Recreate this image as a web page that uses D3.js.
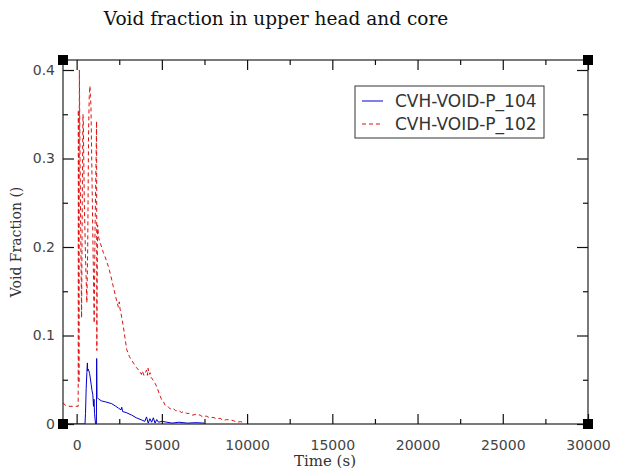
<!DOCTYPE html>
<html>
<head>
<meta charset="utf-8">
<script src="https://cdn.jsdelivr.net/npm/d3@7"></script>
<style>
  body { margin: 0; background: #fff; }
  .tick-label { font-family: "DejaVu Sans", sans-serif; font-size: 14px; fill: #444; }
  .axis-title { font-family: "DejaVu Serif", serif; font-size: 15px; fill: #333; }
</style>
</head>
<body>
<div id="chart"></div>
<script>
// time (s) and void fraction for the two cells
var p102_time = [-800, -650, -500, 90, 100, 120, 135, 160, 200, 240, 290, 330, 370, 390, 450, 520, 600, 650, 700, 740, 780, 810, 840, 900, 960, 1030, 1080, 1140, 1170, 1185, 1200, 1230, 1300, 1370, 1470, 1560, 1664, 1760, 1858, 2000, 2152, 2300, 2446, 2500, 2546, 2605, 2740, 2840, 2940, 3100, 3328, 3500, 3722, 3800, 3850, 3950, 4016, 4100, 4150, 4192, 4250, 4310, 4350, 4400, 4500, 4600, 4704, 4850, 4998, 5100, 5200, 5350, 5486, 5650, 5800, 6000, 6150, 6268, 6450, 6600, 6800, 7000, 7250, 7400, 7600, 7800, 8000, 8200, 8426, 8600, 8800, 9000, 9200, 9400, 9602, 9800];
var p102_void = [0.024, 0.021, 0.020, 0.020, 0.355, 0.20, 0.046, 0.40, 0.30, 0.22, 0.12, 0.25, 0.35, 0.345, 0.25, 0.19, 0.137, 0.20, 0.33, 0.37, 0.382, 0.37, 0.36, 0.28, 0.20, 0.114, 0.22, 0.30, 0.342, 0.083, 0.15, 0.225, 0.21, 0.205, 0.200, 0.194, 0.189, 0.184, 0.178, 0.168, 0.155, 0.143, 0.132, 0.138, 0.130, 0.125, 0.110, 0.097, 0.084, 0.076, 0.069, 0.064, 0.059, 0.056, 0.060, 0.055, 0.057, 0.061, 0.055, 0.063, 0.056, 0.058, 0.053, 0.052, 0.049, 0.046, 0.042, 0.034, 0.027, 0.025, 0.021, 0.020, 0.017, 0.018, 0.015, 0.015, 0.013, 0.014, 0.012, 0.012, 0.010, 0.011, 0.010, 0.008, 0.009, 0.007, 0.0075, 0.006, 0.0064, 0.004, 0.005, 0.0045, 0.0038, 0.002, 0.0026, 0.002];

var p104_time = [-800, 490, 520, 560, 600, 630, 650, 680, 720, 760, 800, 850, 900, 950, 990, 1020, 1050, 1110, 1160, 1175, 1195, 1300, 1470, 1700, 2058, 2300, 2446, 2600, 2646, 2700, 2900, 3234, 3500, 3822, 4000, 4100, 4200, 4300, 4400, 4500, 4600, 4700, 4800, 5000, 5300, 5600, 6000, 6500, 7000, 7500];
var p104_void = [0, 0, 0.012, 0.040, 0.058, 0.069, 0.060, 0.062, 0.060, 0.057, 0.052, 0.045, 0.038, 0.033, 0.020, 0.028, 0.012, 0, 0, 0.074, 0.030, 0.028, 0.026, 0.025, 0.023, 0.020, 0.018, 0.016, 0.019, 0.014, 0.013, 0.010, 0.007, 0.0045, 0.003, 0.008, 0.001, 0.006, 0.002, 0.007, 0.001, 0.005, 0.002, 0.003, 0.002, 0.001, 0.002, 0.001, 0.0015, 0.001];

var series_names = ["CVH-VOID-P_104", "CVH-VOID-P_102"];
var series_colors = ["#0000cc", "#dd1111"];
var series_dash = [null, "4,3"];

var x_ticks = [0, 5000, 10000, 15000, 20000, 25000, 30000];
var x_minor = [2500, 7500, 12500, 17500, 22500, 27500];
var y_ticks = [0, 0.1, 0.2, 0.3, 0.4];
var y_minor = [0.05, 0.15, 0.25, 0.35];

var svg = d3.select("#chart").append("svg")
    .attr("width", 617)
    .attr("height", 470);

var pLeft = 63, pRight = 588, pTop = 60, pBottom = 424;

var x = d3.scaleLinear().domain([-800, 30000]).range([pLeft, pRight]);
var y = d3.scaleLinear().domain([0, 0.4113]).range([pBottom, pTop]);

function pairs(t, v) {
  var out = [];
  for (var i = 0; i < t.length; i++) {
    out.push({t: t[i], v: v[i]});
  }
  return out;
}

var line = d3.line()
    .x(function(d) { return x(d.t); })
    .y(function(d) { return y(d.v); });

// title
svg.append("text")
    .attr("x", 276)
    .attr("y", 25)
    .attr("text-anchor", "middle")
    .style("font-family", "'DejaVu Serif', serif")
    .style("font-size", "18.5px")
    .style("fill", "#111")
    .text("Void fraction in upper head and core");

// data lines (clip to the frame)
svg.append("clipPath").attr("id", "plotclip")
  .append("rect")
    .attr("x", pLeft).attr("y", pTop)
    .attr("width", pRight - pLeft).attr("height", pBottom - pTop);

var plot = svg.append("g").attr("clip-path", "url(#plotclip)");

plot.append("path")
    .datum(pairs(p104_time, p104_void))
    .attr("d", line)
    .attr("fill", "none")
    .attr("stroke", series_colors[0])
    .attr("stroke-width", 1);

plot.append("path")
    .datum(pairs(p102_time, p102_void))
    .attr("d", line)
    .attr("fill", "none")
    .attr("stroke", series_colors[1])
    .attr("stroke-width", 1)
    .attr("stroke-dasharray", series_dash[1]);

// frame
svg.append("rect")
    .attr("x", pLeft).attr("y", pTop)
    .attr("width", pRight - pLeft).attr("height", pBottom - pTop)
    .attr("fill", "none")
    .attr("stroke", "#222")
    .attr("stroke-width", 1.2);

// axes, ticks drawn inward on all four sides
var xBottom = d3.axisBottom(x).tickValues(x_ticks).tickSize(-10).tickPadding(16).tickFormat(d3.format("d"));
var xBottomMinor = d3.axisBottom(x).tickValues(x_minor).tickSize(-5).tickFormat("");
var xTop = d3.axisTop(x).tickValues(x_ticks).tickSize(-10).tickFormat("");
var xTopMinor = d3.axisTop(x).tickValues(x_minor).tickSize(-5).tickFormat("");
var yLeft = d3.axisLeft(y).tickValues(y_ticks).tickSize(-11).tickPadding(8).tickFormat(function(d) { return d === 0 ? "0" : d3.format(".1f")(d); });
var yLeftMinor = d3.axisLeft(y).tickValues(y_minor).tickSize(-5).tickFormat("");
var yRight = d3.axisRight(y).tickValues(y_ticks).tickSize(-11).tickFormat("");
var yRightMinor = d3.axisRight(y).tickValues(y_minor).tickSize(-5).tickFormat("");

function customAxis(g) {
  g.select(".domain").remove();
  g.selectAll(".tick line").attr("stroke", "#111").attr("stroke-width", 1.2);
  g.selectAll(".tick text").attr("class", "tick-label").attr("font-family", null).attr("font-size", null);
}

svg.append("g").attr("transform", "translate(0," + pBottom + ")").call(xBottom).call(customAxis);
svg.append("g").attr("transform", "translate(0," + pBottom + ")").call(xBottomMinor).call(customAxis);
svg.append("g").attr("transform", "translate(0," + pTop + ")").call(xTop).call(customAxis);
svg.append("g").attr("transform", "translate(0," + pTop + ")").call(xTopMinor).call(customAxis);
svg.append("g").attr("transform", "translate(" + pLeft + ",0)").call(yLeft).call(customAxis);
svg.append("g").attr("transform", "translate(" + pLeft + ",0)").call(yLeftMinor).call(customAxis);
svg.append("g").attr("transform", "translate(" + pRight + ",0)").call(yRight).call(customAxis);
svg.append("g").attr("transform", "translate(" + pRight + ",0)").call(yRightMinor).call(customAxis);

// corner markers
var corners = [[pLeft, pTop], [pRight, pTop], [pLeft, pBottom], [pRight, pBottom]];
svg.selectAll(".corner")
    .data(corners)
    .enter().append("rect")
    .attr("class", "corner")
    .attr("x", function(d) { return d[0] - 5; })
    .attr("y", function(d) { return d[1] - 5; })
    .attr("width", 10)
    .attr("height", 10)
    .attr("fill", "#000");

// axis titles
svg.append("text")
    .attr("class", "axis-title")
    .attr("x", 325)
    .attr("y", 466)
    .attr("text-anchor", "middle")
    .text("Time (s)");

svg.append("text")
    .attr("class", "axis-title")
    .attr("transform", "translate(21," + ((pTop + pBottom) / 2) + ") rotate(-90)")
    .attr("text-anchor", "middle")
    .style("font-size", "14px")
    .text("Void Fraction ()");

// legend
var legend = svg.append("g").attr("transform", "translate(355,86)");
legend.append("rect")
    .attr("width", 189)
    .attr("height", 52)
    .attr("fill", "#fff")
    .attr("stroke", "#333")
    .attr("stroke-width", 1);

series_names.forEach(function(name, i) {
  var ly = 15 + i * 23;
  legend.append("line")
      .attr("x1", 7).attr("x2", 28)
      .attr("y1", ly).attr("y2", ly)
      .attr("stroke", series_colors[i])
      .attr("stroke-width", 1)
      .attr("stroke-dasharray", series_dash[i]);
  legend.append("text")
      .attr("x", 40)
      .attr("y", ly + 6)
      .style("font-family", "'DejaVu Sans', sans-serif")
      .style("font-size", "17px")
      .style("fill", "#333")
      .text(name);
});
</script>
</body>
</html>
